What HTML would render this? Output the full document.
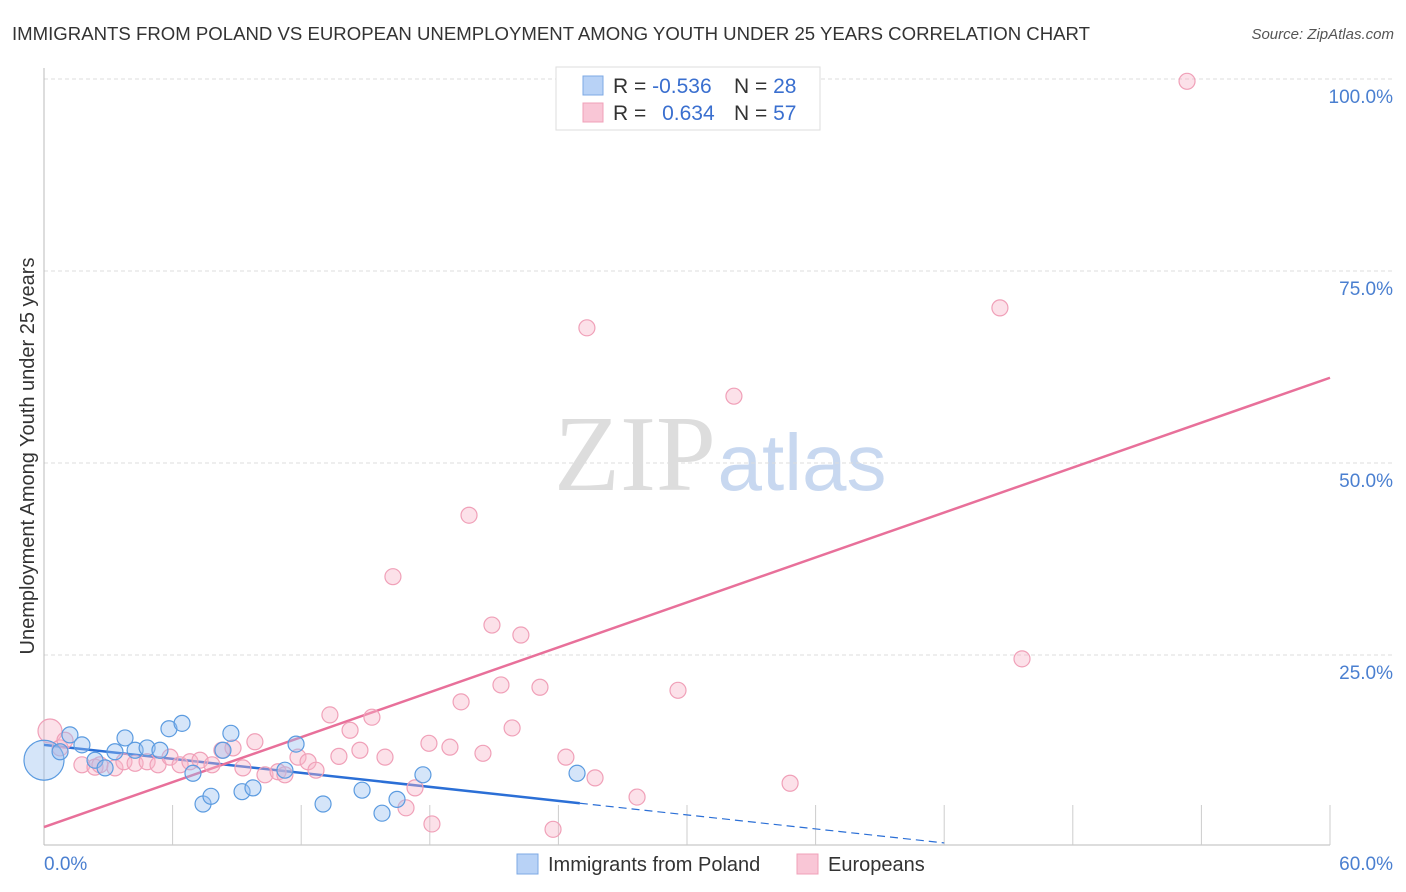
<!DOCTYPE html>
<html><head><meta charset="utf-8"><style>
body{margin:0;background:#fff;font-family:"Liberation Sans",sans-serif}
svg{display:block}
</style></head><body>
<svg id="c" width="1406" height="892">
<text x="12" y="40" font-size="18.6" fill="#333" textLength="1078" lengthAdjust="spacingAndGlyphs">IMMIGRANTS FROM POLAND VS EUROPEAN UNEMPLOYMENT AMONG YOUTH UNDER 25 YEARS CORRELATION CHART</text>
<text x="1394" y="39" font-size="15" fill="#555" font-style="italic" text-anchor="end">Source: ZipAtlas.com</text>
<g>
<text x="635" y="490" font-size="108" fill="#ddd" font-family="Liberation Serif,serif" text-anchor="middle">ZIP</text>
<text x="802" y="490" font-size="80" fill="#c8d8f0" text-anchor="middle">atlas</text>
</g>
<g id="grid"></g><g id="axes"></g><g id="lines"></g><g id="pts"></g>
<text transform="translate(34,456) rotate(-90)" font-size="20" fill="#333" text-anchor="middle">Unemployment Among Youth under 25 years</text>
<g>
<rect x="556" y="67" width="264" height="63" fill="#fff" stroke="#ddd"/>
<rect x="583" y="76" width="20" height="19" fill="#b8d2f6" stroke="#7ea9e4"/>
<rect x="583" y="103" width="20" height="19" fill="#f9c6d6" stroke="#f0a0b8"/>
<text x="613" y="93" font-size="21" fill="#333">R = <tspan fill="#3a6fcf">-0.536</tspan></text>
<text x="734" y="93" font-size="21" fill="#333">N = <tspan fill="#3a6fcf">28</tspan></text>
<text x="613" y="120" font-size="21" fill="#333">R = <tspan fill="#3a6fcf" dx="10">0.634</tspan></text>
<text x="734" y="120" font-size="21" fill="#333">N = <tspan fill="#3a6fcf">57</tspan></text>
</g>
<g>
<rect x="517" y="854" width="21" height="20" fill="#b8d2f6" stroke="#7ea9e4"/>
<text x="548" y="871" font-size="20" fill="#333">Immigrants from Poland</text>
<rect x="797" y="854" width="21" height="20" fill="#f9c6d6" stroke="#f0a0b8"/>
<text x="828" y="871" font-size="20" fill="#333">Europeans</text>
</g>
</svg>
<script>
const yTicks=[25,50,75,100];
const yTickLabels=["25.0%","50.0%","75.0%","100.0%"];
const xTickLabels=["0.0%","60.0%"];
const blueX=[0,0.75,1.21,1.77,2.38,2.85,3.31,3.78,4.25,4.81,5.41,5.83,6.44,6.95,7.42,7.79,8.35,8.72,9.24,9.75,11.24,11.76,13.02,14.84,15.77,16.47,17.68,24.87];
const blueY=[11.3,12.4,14.6,13.3,11.3,10.3,12.4,14.2,12.6,12.9,12.6,15.4,16.1,9.6,5.6,6.6,12.6,14.8,7.2,7.7,10.0,13.4,5.6,7.4,4.4,6.2,9.4,9.6];
const pinkX=[0.28,0.75,0.98,1.77,2.38,2.61,3.31,3.73,4.25,4.81,5.32,5.88,6.35,6.81,7.28,7.84,8.30,8.82,9.28,9.84,10.31,10.92,11.24,11.85,12.32,12.69,13.34,13.76,14.28,14.74,15.30,15.91,16.28,16.89,17.31,17.96,18.10,18.94,19.46,19.83,20.48,20.90,21.32,21.84,22.25,23.14,23.75,24.35,25.33,25.71,27.67,29.58,32.19,34.81,44.60,45.63,53.33];
const pinkY=[15.1,12.9,13.9,10.7,10.4,10.7,10.3,11.1,10.9,11.1,10.7,11.7,10.7,11.1,11.3,10.7,12.6,12.9,10.3,13.7,9.4,9.8,9.4,11.7,11.1,10.0,17.2,11.8,15.2,12.6,16.9,11.7,35.2,5.1,7.7,13.5,3.0,13.0,18.9,43.2,12.2,28.9,21.1,15.5,27.6,20.8,2.3,11.7,67.6,9.0,6.5,20.4,58.7,8.3,70.2,24.5,99.7];
const blueTrend=[13.3,-0.304];
const pinkTrend=[2.6,0.975];
const X=v=>44+v/60*1286, Y=v=>847-v/100*768;
const NS="http://www.w3.org/2000/svg";
function mk(p,t,a){const e=document.createElementNS(NS,t);for(const k in a)e.setAttribute(k,a[k]);document.getElementById(p).appendChild(e);return e;}
yTicks.forEach((t,i)=>{
 const g=mk('grid','line',{x1:44,x2:1394,y1:Y(t),y2:Y(t),stroke:'#ddd','stroke-dasharray':'4,3'});
 
 
 const l=mk('axes','text',{x:1393,y:Y(t)+24,'font-size':19,fill:'#4a7fd0','text-anchor':'end'});l.textContent=yTickLabels[i];
 
 
});
mk('axes','line',{x1:44,x2:44,y1:68,y2:845,stroke:'#bbb'});
mk('axes','line',{x1:44,x2:1330,y1:845,y2:845,stroke:'#bbb'});
for(let i=1;i<=10;i++){const t=mk('axes','line',{x1:X(i*6),x2:X(i*6),y1:805,y2:845,stroke:'#ccc'});
 
 }
const x0=mk('axes','text',{x:44,y:870,'font-size':19,fill:'#4a7fd0'});x0.textContent=xTickLabels[0];


const x1=mk('axes','text',{x:1393,y:870,'font-size':19,fill:'#4a7fd0','text-anchor':'end'});x1.textContent=xTickLabels[1];


pinkX.forEach((x,i)=>{const c=mk('pts','circle',{cx:X(x),cy:Y(pinkY[i]),r:i==0?12:8,fill:'rgba(248,180,200,0.4)',stroke:'#f0a0b8','stroke-width':1.2});
 
 });
blueX.forEach((x,i)=>{const c=mk('pts','circle',{cx:X(x),cy:Y(blueY[i]),r:i==0?20:8,fill:'rgba(150,190,240,0.4)',stroke:'#5b9be0','stroke-width':1.2});
 
 });
const bl=mk('lines','line',{x1:X(0),y1:Y(blueTrend[0]),x2:X(25),y2:Y(blueTrend[0]+blueTrend[1]*25),stroke:'#2b6fd6','stroke-width':2.5});


const bd=mk('lines','line',{x1:X(25),y1:Y(blueTrend[0]+blueTrend[1]*25),x2:X(42),y2:Y(blueTrend[0]+blueTrend[1]*42),stroke:'#2b6fd6','stroke-width':1.2,'stroke-dasharray':'8,5'});


const pl=mk('lines','line',{x1:X(0),y1:Y(pinkTrend[0]),x2:X(60),y2:Y(pinkTrend[0]+pinkTrend[1]*60),stroke:'#e8709a','stroke-width':2.5});


</script>
</body></html>
